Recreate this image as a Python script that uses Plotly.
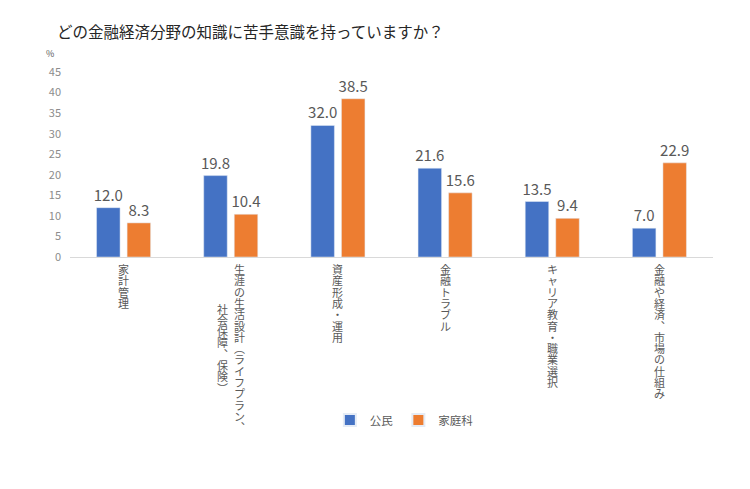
import plotly.graph_objects as go

title = "どの金融経済分野の知識に苦手意識を持っていますか？"
categories = ["家計管理", "生涯の生活設計（ライフプラン、社会保障、保険）", "資産形成・運用",
              "金融トラブル", "キャリア教育・職業選択", "金融や経済、市場の仕組み"]
series_names = ["公民", "家庭科"]
komin = [12.0, 19.8, 32.0, 21.6, 13.5, 7.0]
katei = [8.3, 10.4, 38.5, 15.6, 9.4, 22.9]
colors = ["#4472C4", "#ED7D31"]
y_ticks = [0, 5, 10, 15, 20, 25, 30, 35, 40, 45]

FONT = "Noto Sans CJK JP"
VERT = {"（": "︵", "）": "︶", "、": "︑"}
MAX_COL = 15
PITCH = 11.3
COL_GAP = 17

fig = go.Figure()
for name, vals, col in zip(series_names, [komin, katei], colors):
    fig.add_trace(go.Bar(
        name=name, x=categories, y=vals, marker_color=col,
        text=[f"{v:.1f}" for v in vals], textposition="outside",
        textfont=dict(size=15, color="#595959", family=FONT),
        constraintext="none", cliponaxis=False,
    ))

annotations = []
for cat in categories:
    cols = [cat[i:i + MAX_COL] for i in range(0, len(cat), MAX_COL)]
    n = len(cols)
    longest = max(len(c) for c in cols)
    for ci, col_text in enumerate(cols):
        # first column is rightmost (vertical Japanese text)
        xshift = ((n - 1) / 2 - ci) * COL_GAP
        start = (longest - len(col_text)) / 2 * PITCH
        for k, ch in enumerate(col_text):
            annotations.append(dict(
                x=cat, xref="x", y=0, yref="y", yanchor="top", xanchor="center",
                text=VERT.get(ch, ch), showarrow=False,
                xshift=xshift, yshift=-(2 + start + k * PITCH),
                font=dict(size=11, color="#595959", family=FONT),
            ))

annotations.append(dict(
    x=0, xref="paper", xshift=-26, y=45, yref="y", yshift=19,
    text="%", showarrow=False, font=dict(size=9, color="#595959", family=FONT),
))

fig.update_layout(
    width=750, height=489,
    margin=dict(l=70, r=37, t=72, b=232),
    paper_bgcolor="white", plot_bgcolor="white",
    title=dict(text=title, x=0.076, xanchor="left", y=0.933, yanchor="middle",
               font=dict(size=15.5, color="#262626", family=FONT)),
    barmode="group", bargap=0.43, bargroupgap=0.23,
    font=dict(family=FONT, color="#595959"),
    xaxis=dict(showticklabels=False, showline=True, linecolor="#D9D9D9", linewidth=1,
               ticks="", showgrid=False),
    yaxis=dict(range=[0, 45], tickvals=y_ticks, showgrid=False, zeroline=False,
               showline=False, ticks="", tickfont=dict(size=11, color="#8C8C8C", family=FONT),
               ticklabelstandoff=8),
    legend=dict(orientation="h", x=0.52, xanchor="center", xref="paper",
                y=0.141, yref="container", yanchor="middle",
                font=dict(size=11.5, color="#595959", family=FONT),
                itemwidth=30, itemsizing="constant", tracegroupgap=0),
    annotations=annotations,
    showlegend=True,
)

fig.write_html("out.html", config={"displayModeBar": False},
               post_script="document.body.style.margin='0';")
